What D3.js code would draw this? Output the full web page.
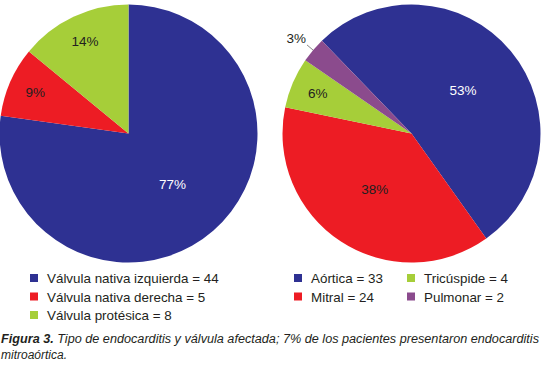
<!DOCTYPE html>
<html>
<head>
<meta charset="utf-8">
<script src="https://cdn.jsdelivr.net/npm/d3@7"></script>
<style>
  body { margin: 0; background: #fff; }
  svg { display: block; font-family: "Liberation Sans", Arial, sans-serif; }
</style>
</head>
<body>
<div id="container"></div>
<script>
/* DATA */
const tipoLabels = ["Válvula nativa izquierda", "Válvula nativa derecha", "Válvula protésica"]
const tipoValues = [44, 5, 8]
const tipoPct = ["77%", "9%", "14%"]

const valvulaLabels = ["Aórtica", "Mitral", "Tricúspide", "Pulmonar"]
const valvulaValues = [33, 24, 4, 2]
const valvulaPct = ["53%", "38%", "6%", "3%"]

const captionBold = "Figura 3."
const captionLine1 = " Tipo de endocarditis y válvula afectada; 7% de los pacientes presentaron endocarditis"
const captionLine2 = "mitroaórtica."

/* CONSTANTS */
const width = 541, height = 372
const colors = ["#2e3192", "#ed1c24", "#a6ce39", "#8b4b8d"]
const radius = 129

const svg = d3.select('#container')
  .append('svg')
  .attr('width', width)
  .attr('height', height)

const arc = d3.arc().innerRadius(0).outerRadius(radius)

function drawPie(values, pct, cx, cy, start) {
  const pie = d3.pie().sort(null)
    .startAngle(start)
    .endAngle(start + 2 * Math.PI)
  const arcs = pie(values)
  const total = d3.sum(values)

  const g = svg.append('g').attr('transform', `translate(${cx},${cy})`)

  g.selectAll('path')
    .data(arcs)
    .join('path')
    .attr('d', arc)
    .attr('fill', (d, i) => colors[i])

  arcs.forEach((d, i) => {
    const frac = d.value / total
    const mid = (d.startAngle + d.endAngle) / 2
    if (frac < 0.05) {
      // outside label with leader line
      const p0 = [Math.sin(mid) * radius, -Math.cos(mid) * radius]
      const p1 = [Math.sin(mid) * (radius + 8), -Math.cos(mid) * (radius + 8)]
      g.append('line')
        .attr('x1', p0[0]).attr('y1', p0[1])
        .attr('x2', p1[0]).attr('y2', p1[1])
        .attr('stroke', '#666').attr('stroke-width', 0.8)
      g.append('text')
        .attr('x', p1[0] - 1).attr('y', p1[1] - 2)
        .attr('text-anchor', 'end')
        .attr('font-size', 13.5)
        .attr('fill', '#231f20')
        .text(pct[i])
      return
    }
    const r = frac > 0.3 ? radius * 0.52 : radius * 0.79
    g.append('text')
      .attr('x', Math.sin(mid) * r)
      .attr('y', -Math.cos(mid) * r)
      .attr('dy', '0.35em')
      .attr('text-anchor', 'middle')
      .attr('font-size', 13.5)
      .attr('fill', i === 0 ? '#fff' : '#231f20')
      .text(pct[i])
  })
}

drawPie(tipoValues, tipoPct, 128.5, 133.5, 0)
drawPie(valvulaValues, valvulaPct, 411.5, 133.5, -44 * Math.PI / 180)

/* LEGENDS */
function legendItem(x, y, color, label) {
  svg.append('rect')
    .attr('x', x).attr('y', y - 9)
    .attr('width', 8).attr('height', 8)
    .attr('fill', color)
  svg.append('text')
    .attr('x', x + 17).attr('y', y)
    .attr('font-size', 13.4)
    .attr('fill', '#231f20')
    .text(label)
}

tipoLabels.forEach((l, i) => legendItem(30, 283 + i * 18.5, colors[i], `${l} = ${tipoValues[i]}`))
valvulaLabels.forEach((l, i) => {
  const col = Math.floor(i / 2), row = i % 2
  // column order: Aórtica, Mitral | Tricúspide, Pulmonar
  legendItem(294 + col * 113, 283 + row * 18.5, colors[i], `${l} = ${valvulaValues[i]}`)
})

/* CAPTION */
const cap = svg.append('text')
  .attr('x', 1).attr('y', 343)
  .attr('font-size', 12.5)
  .attr('font-style', 'italic')
  .attr('fill', '#231f20')
  .attr('textLength', 538)
  .attr('lengthAdjust', 'spacingAndGlyphs')
cap.append('tspan').attr('font-weight', 'bold').text(captionBold)
cap.append('tspan').text(captionLine1)

svg.append('text')
  .attr('x', 1).attr('y', 359)
  .attr('font-size', 12.5)
  .attr('font-style', 'italic')
  .attr('fill', '#231f20')
  .attr('textLength', 66)
  .attr('lengthAdjust', 'spacingAndGlyphs')
  .text(captionLine2)
</script>
</body>
</html>
